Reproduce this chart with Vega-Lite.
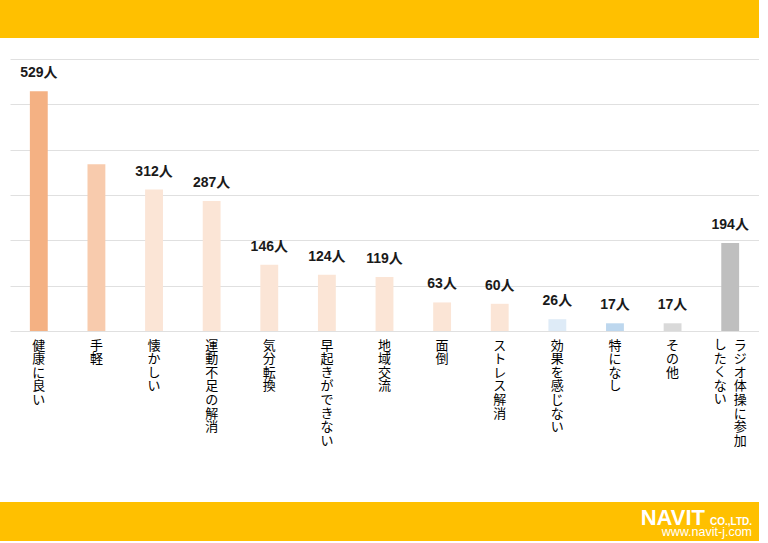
{
  "$schema": "https://vega.github.io/schema/vega-lite/v6.json",
  "padding": 0,
  "background": "#FFFFFF",
  "config": {"view": {"stroke": null}},
  "align": "none",
  "spacing": 21,
  "vconcat": [
    {
      "width": 759,
      "height": 38,
      "view": {"fill": "#FFC000"},
      "data": {"values": [{}]},
      "mark": {"type": "text", "text": ""}
    },
    {
      "align": "none",
      "spacing": 54,
      "title": {
        "text": "CO.,LTD.",
        "subtitle": "www.navit-j.com",
        "orient": "bottom",
        "anchor": "end",
        "frame": "bounds",
        "offset": -24,
        "dx": -7,
        "font": "Liberation Sans",
        "fontSize": 10,
        "fontWeight": "bold",
        "color": "#FFFFFF",
        "subtitleFont": "Liberation Sans",
        "subtitleFontSize": 12.5,
        "subtitleColor": "#FFFFFF",
        "subtitlePadding": -1,
        "baseline": "top"
      },
      "vconcat": [
        {
          "width": 759,
          "height": 272,
          "data": {
            "values": [
              {"item": "健康に良い", "count": 529},
              {"item": "手軽", "count": 368},
              {"item": "懐かしい", "count": 312},
              {"item": "運動不足の解消", "count": 287},
              {"item": "気分転換", "count": 146},
              {"item": "早起きができない", "count": 124},
              {"item": "地域交流", "count": 119},
              {"item": "面倒", "count": 63},
              {"item": "ストレス解消", "count": 60},
              {"item": "効果を感じない", "count": 26},
              {"item": "特になし", "count": 17},
              {"item": "その他", "count": 17},
              {"item": "ラジオ体操に参加したくない", "count": 194}
            ]
          },
          "encoding": {
            "x": {
              "field": "item",
              "type": "nominal",
              "sort": null,
              "scale": {"range": [10, 759], "paddingInner": 0.69, "paddingOuter": 0.345},
              "axis": {
                "title": null,
                "domain": false,
                "ticks": false,
                "labelAngle": 0,
                "labelPadding": 8,
                "labelFont": "Noto Sans CJK JP",
                "labelFontSize": 13,
                "labelColor": "#000000",
                "labelLineHeight": 13.6,
                "labelBaseline": "top",
                "labelOverlap": false,
                "labelLimit": 0,
                "labelOffset": {
                  "condition": {"test": "datum.value === 'ラジオ体操に参加したくない'", "value": 10},
                  "value": 0
                },
                "labelExpr": "datum.value === 'ラジオ体操に参加したくない' ? split('ラジオ体操に参加', '') : split(datum.value, '')"
              }
            }
          },
          "layer": [
            {
              "mark": {"type": "bar"},
              "encoding": {
                "y": {
                  "field": "count",
                  "type": "quantitative",
                  "scale": {"domain": [0, 600], "nice": false},
                  "axis": {
                    "title": null,
                    "labels": false,
                    "domain": false,
                    "ticks": false,
                    "values": [0, 100, 200, 300, 400, 500, 600],
                    "grid": true,
                    "gridColor": "#E0E0E0",
                    "gridWidth": 1
                  }
                },
                "color": {
                  "field": "item",
                  "type": "nominal",
                  "legend": null,
                  "scale": {
                    "domain": ["健康に良い", "手軽", "懐かしい", "運動不足の解消", "気分転換", "早起きができない", "地域交流", "面倒", "ストレス解消", "効果を感じない", "特になし", "その他", "ラジオ体操に参加したくない"],
                    "range": ["#F4B183", "#F8CBAD", "#FBE5D6", "#FBE5D6", "#FBE5D6", "#FBE5D6", "#FBE5D6", "#FBE5D6", "#FBE5D6", "#DEEBF7", "#BDD7EE", "#D9D9D9", "#BFBFBF"]
                  }
                }
              }
            },
            {
              "transform": [
                {"filter": "datum.item !== '手軽'"},
                {"calculate": "datum.count + '人'", "as": "label"}
              ],
              "mark": {
                "type": "text",
                "baseline": "alphabetic",
                "dy": -14,
                "font": "Liberation Sans, Noto Sans CJK JP",
                "fontSize": 14,
                "fontWeight": "bold",
                "color": "#1A1A1A"
              },
              "encoding": {
                "y": {"field": "count", "type": "quantitative"},
                "text": {"field": "label"}
              }
            },
            {
              "transform": [{"filter": "datum.item === 'ラジオ体操に参加したくない'"}],
              "mark": {
                "type": "text",
                "text": ["し", "た", "く", "な", "い"],
                "baseline": "top",
                "dx": -10,
                "dy": 8,
                "font": "Noto Sans CJK JP",
                "fontSize": 13,
                "lineHeight": 13.6,
                "color": "#000000"
              },
              "encoding": {
                "y": {"datum": 0, "type": "quantitative"}
              }
            }
          ]
        },
        {
          "width": 759,
          "height": 39,
          "view": {"fill": "#FFC000"},
          "title": {
            "text": "NAVIT",
            "orient": "top",
            "anchor": "end",
            "frame": "group",
            "offset": -28,
            "dx": -54,
            "font": "Liberation Sans",
            "fontSize": 22,
            "fontWeight": "bold",
            "color": "#FFFFFF",
            "baseline": "top"
          },
          "data": {"values": [{}]},
          "mark": {"type": "text", "text": ""}
        }
      ]
    }
  ]
}
